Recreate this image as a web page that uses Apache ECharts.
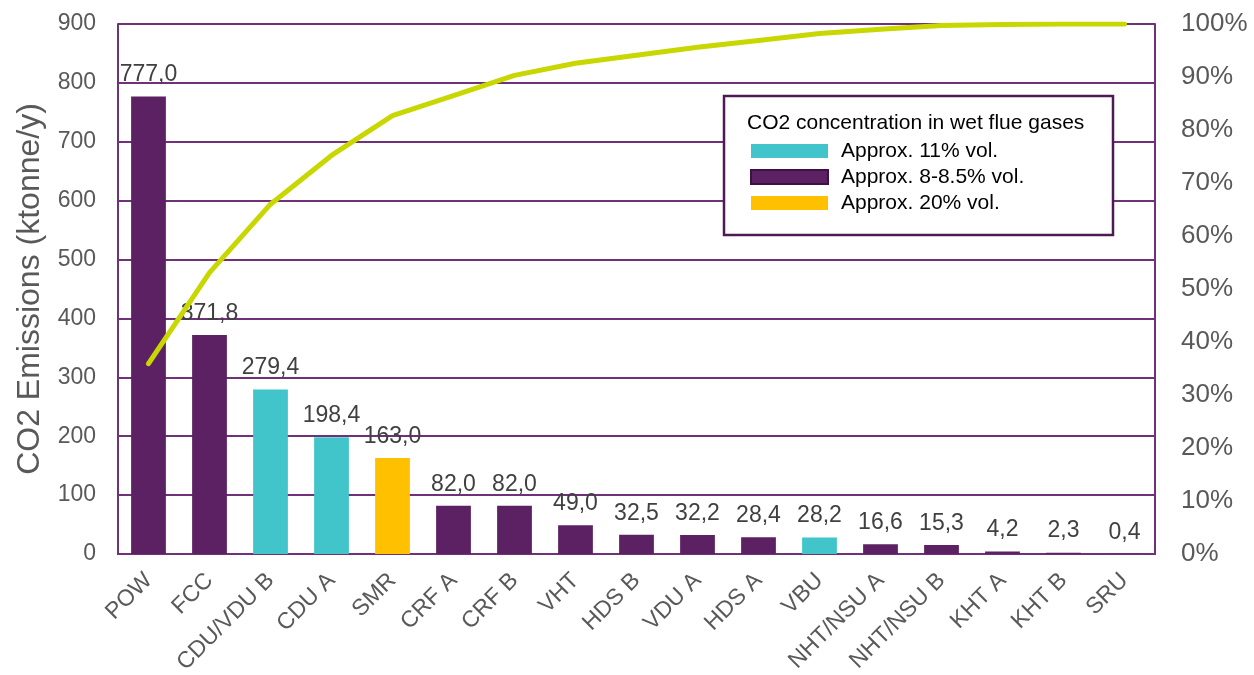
<!DOCTYPE html>
<html>
<head>
<meta charset="utf-8">
<script src="https://cdn.jsdelivr.net/npm/echarts@6/dist/echarts.min.js"></script>
<style>
  html, body { margin: 0; padding: 0; background: #ffffff; }
  #chart { width: 1254px; height: 675px; }
</style>
</head>
<body>
<div id="chart"></div>
<script>
// Refinery units, sorted by annual CO2 emissions
const units = ['POW', 'FCC', 'CDU/VDU B', 'CDU A', 'SMR', 'CRF A', 'CRF B', 'VHT', 'HDS B',
  'VDU A', 'HDS A', 'VBU', 'NHT/NSU A', 'NHT/NSU B', 'KHT A', 'KHT B', 'SRU'];

// CO2 emissions (ktonne/y) per unit
const emissions = [777.0, 371.8, 279.4, 198.4, 163.0, 82.0, 82.0, 49.0, 32.5,
  32.2, 28.4, 28.2, 16.6, 15.3, 4.2, 2.3, 0.4];

// Flue gas CO2 concentration class of each unit: 'mid' = 11%, 'low' = 8-8.5%, 'high' = 20%
const fluegasClass = ['low', 'low', 'mid', 'mid', 'high', 'low', 'low', 'low', 'low',
  'low', 'low', 'mid', 'low', 'low', 'low', 'low', 'low'];

// Cumulative share of total emissions (%)
const cumulativeShare = [35.9, 53.1, 66.0, 75.2, 82.7, 86.5, 90.3, 92.6, 94.1,
  95.6, 96.9, 98.2, 99.0, 99.7, 99.9, 100.0, 100.0];

const leftTicks = { min: 0, max: 900, interval: 100 };
const rightTicks = { min: 0, max: 100, interval: 10 };

const classes = [
  { key: 'mid', name: 'Approx. 11% vol.', color: '#41C5CA' },
  { key: 'low', name: 'Approx. 8-8.5% vol.', color: '#5C2163' },
  { key: 'high', name: 'Approx. 20% vol.', color: '#FFC000' }
];

const gridColor = '#70307A';
const fontFamily = 'Liberation Sans, Arial, sans-serif';
const fmt = v => v.toFixed(1).replace('.', ',');

const barSeries = classes.map(c => ({
  name: c.name,
  type: 'bar',
  stack: 'emissions',
  barWidth: '57%',
  itemStyle: { color: c.color },
  data: emissions.map((v, i) => fluegasClass[i] === c.key ? v : '-'),
  label: {
    show: true,
    position: 'top',
    distance: 10,
    color: '#404040',
    fontSize: 23,
    fontFamily: fontFamily,
    formatter: p => fmt(p.value)
  },
  z: 2
}));

const chart = echarts.init(document.getElementById('chart'), null, { renderer: 'canvas' });

chart.setOption({
  backgroundColor: '#ffffff',
  animation: false,
  textStyle: { fontFamily: fontFamily },
  grid: { left: 118, right: 99, top: 24, bottom: 121, outerBoundsMode: 'none' },
  xAxis: {
    type: 'category',
    data: units,
    axisLine: { lineStyle: { color: gridColor, width: 2 } },
    axisTick: { show: false },
    axisLabel: {
      rotate: 45,
      interval: 0,
      color: '#595959',
      fontSize: 23,
      margin: 23
    }
  },
  yAxis: [
    {
      type: 'value',
      min: leftTicks.min, max: leftTicks.max, interval: leftTicks.interval,
      name: 'CO2 Emissions (ktonne/y)',
      nameLocation: 'middle',
      nameGap: 72,
      nameTextStyle: { color: '#595959', fontSize: 32 },
      axisLine: { show: true, lineStyle: { color: gridColor, width: 2 } },
      axisTick: { show: false },
      axisLabel: { color: '#595959', fontSize: 23, margin: 22 },
      splitLine: { lineStyle: { color: gridColor, width: 2 } }
    },
    {
      type: 'value',
      min: rightTicks.min, max: rightTicks.max, interval: rightTicks.interval,
      position: 'right',
      axisLine: { show: true, lineStyle: { color: gridColor, width: 2 } },
      axisTick: { show: false },
      axisLabel: { color: '#595959', fontSize: 26, margin: 26, formatter: '{value}%' },
      splitLine: { show: false }
    }
  ],
  legend: {
    orient: 'vertical',
    left: 750,
    top: 138,
    padding: 0,
    itemWidth: 77,
    itemHeight: 14,
    itemGap: 0,
    icon: 'rect',
    data: classes.map(c => ({
      name: c.name,
      itemStyle: c.key === 'low' ? { borderColor: '#3E1044', borderWidth: 2 } : {}
    })),
    textStyle: { color: '#000000', fontSize: 21, lineHeight: 26, padding: [0, 0, 0, 8] },
    selectedMode: false,
    z: 10
  },
  graphic: [
    {
      type: 'rect',
      z: 8,
      shape: { x: 724, y: 96, width: 389, height: 139 },
      style: { fill: '#ffffff', stroke: '#4E1A56', lineWidth: 2.5 }
    },
    {
      type: 'text',
      z: 9,
      left: 747,
      top: 113,
      style: {
        text: 'CO2 concentration in wet flue gases',
        fill: '#000000',
        fontSize: 21,
        fontFamily: fontFamily
      }
    }
  ],
  series: [
    ...barSeries,
    {
      name: 'Cumulative share',
      type: 'line',
      yAxisIndex: 1,
      data: cumulativeShare,
      symbol: 'none',
      lineStyle: { color: '#C8D700', width: 5, cap: 'round', join: 'round' },
      z: 5
    }
  ]
});
</script>
</body>
</html>
